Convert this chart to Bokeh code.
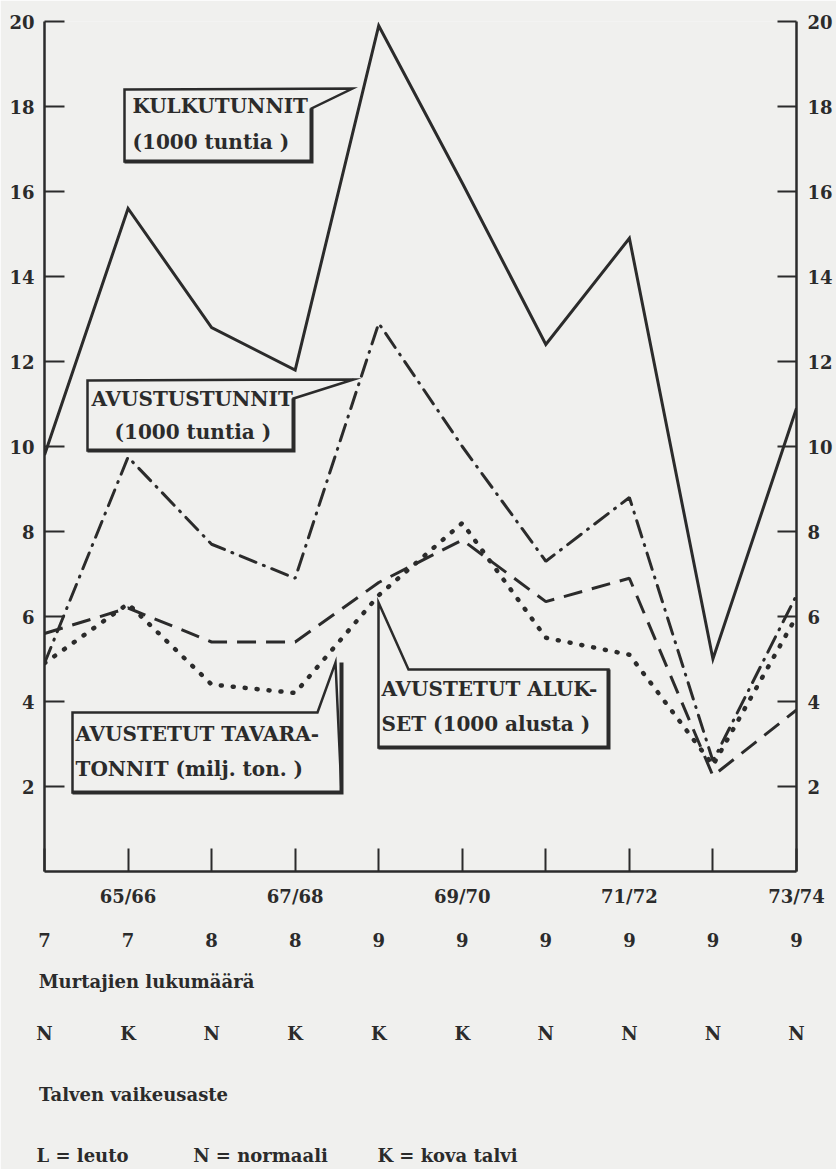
from bokeh.plotting import figure
from bokeh.models import Range1d, LinearAxis, FixedTicker
from bokeh.core.properties import value
from bokeh.embed import file_html
from bokeh.resources import INLINE

# ---------------- data ----------------
years = ["64/65", "65/66", "66/67", "67/68", "68/69",
         "69/70", "70/71", "71/72", "72/73", "73/74"]
kulkutunnit = [9.8, 15.6, 12.8, 11.8, 19.9, 16.2, 12.4, 14.9, 5.0, 10.9]
avustustunnit = [4.9, 9.75, 7.7, 6.9, 12.9, 10.0, 7.3, 8.8, 2.6, 6.5]
avustetut_alukset = [5.6, 6.2, 5.4, 5.4, 6.8, 7.8, 6.35, 6.9, 2.25, 3.8]
avustetut_tavaratonnit = [4.9, 6.3, 4.4, 4.2, 6.5, 8.2, 5.5, 5.1, 2.5, 6.0]
murtajien_lukumaara = ["7", "7", "8", "8", "9", "9", "9", "9", "9", "9"]
talven_vaikeusaste = ["N", "K", "N", "K", "K", "K", "N", "N", "N", "N"]
selitteet = ["L = leuto", "N = normaali", "K = kova talvi"]
y_ticks = [2, 4, 6, 8, 10, 12, 14, 16, 18, 20]

# ---------------- style / layout ----------------
BG = "#f0f0ee"
INK = "#2b2b2b"
FONT = "DejaVu Serif"

W = 836
H = 1169
FL, FR, FT, FB = 44, 796, 21, 871      # frame in canvas px
UX = (FR - FL) / 9.0
UY = (FB - FT) / 20.0


def dx(px):
    return (px - FL) / UX


def dy(py):
    return (FB - py) / UY


xs = list(range(len(years)))

p = figure(width=W, height=H, x_range=Range1d(0, 9), y_range=Range1d(0, 20),
           output_backend="svg", toolbar_location=None,
           min_border_left=FL, min_border_right=W - FR,
           min_border_top=FT, min_border_bottom=H - FB,
           background_fill_color=BG, border_fill_color=BG)
p.outline_line_color = None
p.grid.visible = False


def style_axis(ax, tick_in):
    ax.axis_line_color = INK
    ax.axis_line_width = 2.5
    ax.major_tick_line_color = INK
    ax.major_tick_line_width = 2
    ax.major_tick_in = tick_in
    ax.major_tick_out = 0
    ax.minor_tick_line_color = None
    ax.major_label_text_font = FONT
    ax.major_label_text_font_style = "bold"
    ax.major_label_text_color = INK


xa = p.xaxis[0]
xa.ticker = FixedTicker(ticks=xs)
xa.major_label_overrides = {i: (years[i] if i % 2 == 1 else "") for i in xs}
style_axis(xa, 23)
xa.major_label_text_font_size = "18px"
xa.major_label_standoff = 14

ya = p.yaxis[0]
ya.ticker = FixedTicker(ticks=y_ticks)
style_axis(ya, 20)
ya.major_label_text_font_size = "18px"
ya.major_label_standoff = 10

ra = LinearAxis(ticker=FixedTicker(ticks=y_ticks))
style_axis(ra, 19)
ra.major_label_text_font_size = "18px"
ra.major_label_standoff = 11
p.add_layout(ra, "right")

# ---------------- series ----------------
p.line(xs, kulkutunnit, line_color=INK, line_width=3, line_join="miter")
p.line(xs, avustustunnit, line_color=INK, line_width=3,
       line_dash="17 8 1 8", line_cap="round")
p.line(xs, avustetut_alukset, line_color=INK, line_width=3,
       line_dash="19 10")
p.line(xs, avustetut_tavaratonnit, line_color=INK, line_width=4.5,
       line_dash="1 11", line_cap="round")

# ---------------- callouts (outlines in canvas px) ----------------
callouts = [
    ([(124, 89), (352, 88), (311, 108), (311, 161), (124, 161)],
     [("KULKUTUNNIT", 132, 105), ("(1000  tuntia  )", 132, 141)]),
    ([(87, 380), (353, 379), (293, 398), (293, 450), (87, 450)],
     [("AVUSTUSTUNNIT", 91, 398), ("(1000 tuntia )", 114, 431)]),
    ([(72, 712), (317, 712), (335, 662), (341, 792), (72, 792)],
     [("AVUSTETUT  TAVARA-", 75, 733), ("TONNIT (milj. ton. )", 75, 768)]),
    ([(378, 602), (408, 669), (608, 669), (608, 747), (378, 747)],
     [("AVUSTETUT  ALUK-", 381, 688), ("SET  (1000 alusta )", 381, 723)]),
]

for outline, texts in callouts:
    px = [dx(a) for a, b in outline]
    py = [dy(b) for a, b in outline]
    p.patch(px, py, fill_color=BG, line_color=INK, line_width=2.5,
            line_join="miter")
    bx = [dx(outline[-1][0]), dx(outline[-2][0]), dx(outline[-2][0])]
    by = [dy(outline[-1][1]), dy(outline[-2][1]), dy(outline[-3][1])]
    p.line(bx, by, line_color=INK, line_width=4, line_join="miter")
    p.text(x=[dx(t[1]) for t in texts], y=[dy(t[2]) for t in texts],
           text=[t[0] for t in texts], text_font=value(FONT),
           text_font_style="bold", text_font_size="20px",
           text_color=INK, text_align="left", text_baseline="middle")


# ---------------- table below the chart (text-only axes) ----------------
def text_axis(ticks, labels, standoff):
    ax = LinearAxis(ticker=FixedTicker(ticks=ticks))
    ax.major_label_overrides = {t: l for t, l in zip(ticks, labels)}
    ax.axis_line_color = None
    ax.major_tick_line_color = None
    ax.minor_tick_line_color = None
    ax.major_tick_in = 0
    ax.major_tick_out = 0
    ax.major_label_standoff = standoff
    ax.major_label_text_font = FONT
    ax.major_label_text_font_style = "bold"
    ax.major_label_text_font_size = "18px"
    ax.major_label_text_color = INK
    p.add_layout(ax, "below")


text_axis(xs, murtajien_lukumaara, 23)
text_axis([dx(146)], ["Murtajien lukumäärä"], 21)
text_axis(xs, talven_vaikeusaste, 28)
text_axis([dx(133)], ["Talven vaikeusaste"], 37)
text_axis([dx(82), dx(260), dx(447)], selitteet, 37)

open("out.html", "w").write(file_html(p, INLINE))
